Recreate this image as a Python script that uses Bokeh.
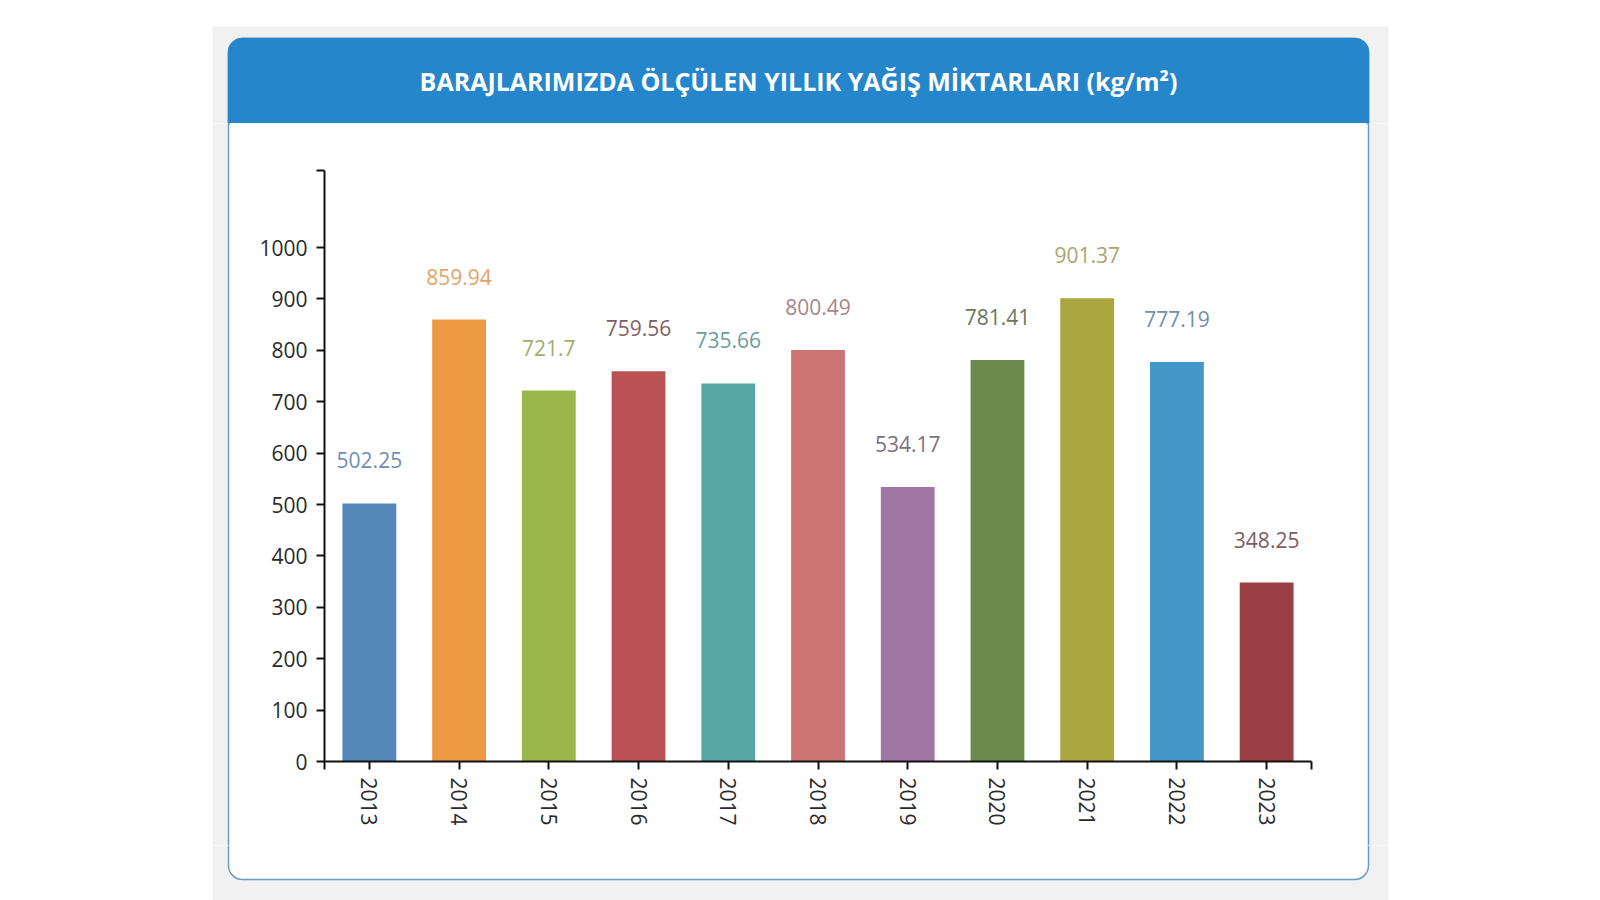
import math
from bokeh.plotting import figure
from bokeh.layouts import column, row
from bokeh.models import Range1d, ColumnDataSource, FixedTicker, Label
from bokeh.core.properties import value
from bokeh.embed import file_html
from bokeh.resources import INLINE

# ---- data ----
years = ["2013", "2014", "2015", "2016", "2017", "2018", "2019", "2020", "2021", "2022", "2023"]
amounts = [502.25, 859.94, 721.7, 759.56, 735.66, 800.49, 534.17, 781.41, 901.37, 777.19, 348.25]
bar_colors = ["#5587bb", "#ee9a44", "#9bb64a", "#bb5356", "#56a8a7", "#cc7374",
              "#a077a3", "#6b8b4d", "#aba53f", "#4297c6", "#9b3f45"]
label_colors = ["#6f8fb4", "#e0a468", "#9eae6c", "#7e5f66", "#6a9e9c", "#a98489",
                "#7b727f", "#6b7661", "#a9a66d", "#6f8fa8", "#7e5c60"]
y_ticks = [0, 100, 200, 300, 400, 500, 600, 700, 800, 900, 1000]
y_max = 1150
title_text = "BARAJLARIMIZDA ÖLÇÜLEN YILLIK YAĞIŞ MİKTARLARI (kg/m²)"

FONT = "Open Sans"
W, H = 1600, 900

# page layout (canvas pixels)
GRAY = (212, 26, 1388, 900)
CARD = (228, 38, 1368, 879)
HEAD_B = 123
ROW_T, ROW_B = 123, 845          # middle row vertical span
C_X0, C_X1 = 230, 1366           # chart figure horizontal span
FRAME = (324, 170, 1311, 761)    # plot frame (left, top, right, bottom)

COMMON = dict(output_backend="svg", toolbar_location=None, tools="", title=None,
              background_fill_color="white", border_fill_color="white",
              outline_line_color=None, frame_align=False)


def deco(x0, y0, x1, y1):
    f = figure(width=x1 - x0, height=y1 - y0, x_range=Range1d(x0, x1), y_range=Range1d(-y1, -y0),
               min_border=0, x_axis_location=None, y_axis_location=None, **COMMON)
    f.xgrid.visible = False
    f.ygrid.visible = False
    gl, gt, gr, gb = GRAY
    f.quad(left=gl, right=gr, top=-gt, bottom=-gb, fill_color="#f1f1f1", line_color=None)
    cl, ct, cr, cb = CARD
    f.quad(left=cl, right=cr, top=-ct, bottom=-cb, fill_color="white",
           line_color="#6a9cbf", line_width=1.5, border_radius=14)
    f.quad(left=cl, right=cr, top=-ct, bottom=-HEAD_B, fill_color="#2586cb",
           line_color="#2586cb", line_width=1.5, border_radius=(14, 14, 0, 0))
    return f


# ---- top strip with header and title ----
top = deco(0, 0, W, ROW_T)
top.add_layout(Label(x=(CARD[0] + CARD[2]) / 2, y=-80, text=title_text,
                     text_align="center", text_baseline="middle", text_color="white",
                     text_font=FONT, text_font_style="bold", text_font_size="25px"))

left = deco(0, ROW_T, C_X0, ROW_B)
right = deco(C_X1, ROW_T, W, ROW_B)
bottom = deco(0, ROW_B, W, H)

# ---- chart ----
n = len(years)
src = ColumnDataSource(dict(
    xpos=[i + 0.5 for i in range(n)], amount=amounts, color=bar_colors, lcolor=label_colors,
    label=[str(a) for a in amounts],
))

fl, ft, fr, fb = FRAME
p = figure(width=C_X1 - C_X0, height=ROW_B - ROW_T,
           x_range=Range1d(0, n), y_range=Range1d(0, y_max),
           min_border_left=fl - C_X0, min_border_right=C_X1 - fr,
           min_border_top=ft - ROW_T, min_border_bottom=ROW_B - fb,
           **COMMON)
p.xgrid.visible = False
p.ygrid.visible = False

p.vbar(x="xpos", top="amount", bottom=0, width=0.6, fill_color="color", line_color=None,
       source=src)
p.text(x="xpos", y="amount", text="label", text_color="lcolor", text_align="center",
       text_baseline="middle", y_offset=-43, text_font=value(FONT), text_font_size="21px",
       source=src)

xaxis = p.xaxis[0]
xaxis.ticker = FixedTicker(ticks=[0] + [i + 0.5 for i in range(n)] + [n])
overrides = {i + 0.5: years[i] for i in range(n)}
overrides[0] = ""
overrides[n] = ""
xaxis.major_label_overrides = overrides
xaxis.major_label_orientation = -math.pi / 2
xaxis.major_label_standoff = 8

yaxis = p.yaxis[0]
yaxis.ticker = FixedTicker(ticks=y_ticks + [y_max])
yaxis.major_label_overrides = {y_max: ""}
yaxis.major_label_standoff = 9

for ax in (xaxis, yaxis):
    ax.axis_line_color = "#111111"
    ax.axis_line_width = 2
    ax.major_tick_line_color = "#111111"
    ax.major_tick_line_width = 2
    ax.major_tick_out = 8
    ax.major_tick_in = 0
    ax.minor_tick_out = 0
    ax.minor_tick_in = 0
    ax.major_label_text_font = FONT
    ax.major_label_text_font_size = "21px"
    ax.major_label_text_color = "#2a2a2a"

layout = column(top, row(left, p, right), bottom)

open("out.html", "w").write(file_html(layout, INLINE))
